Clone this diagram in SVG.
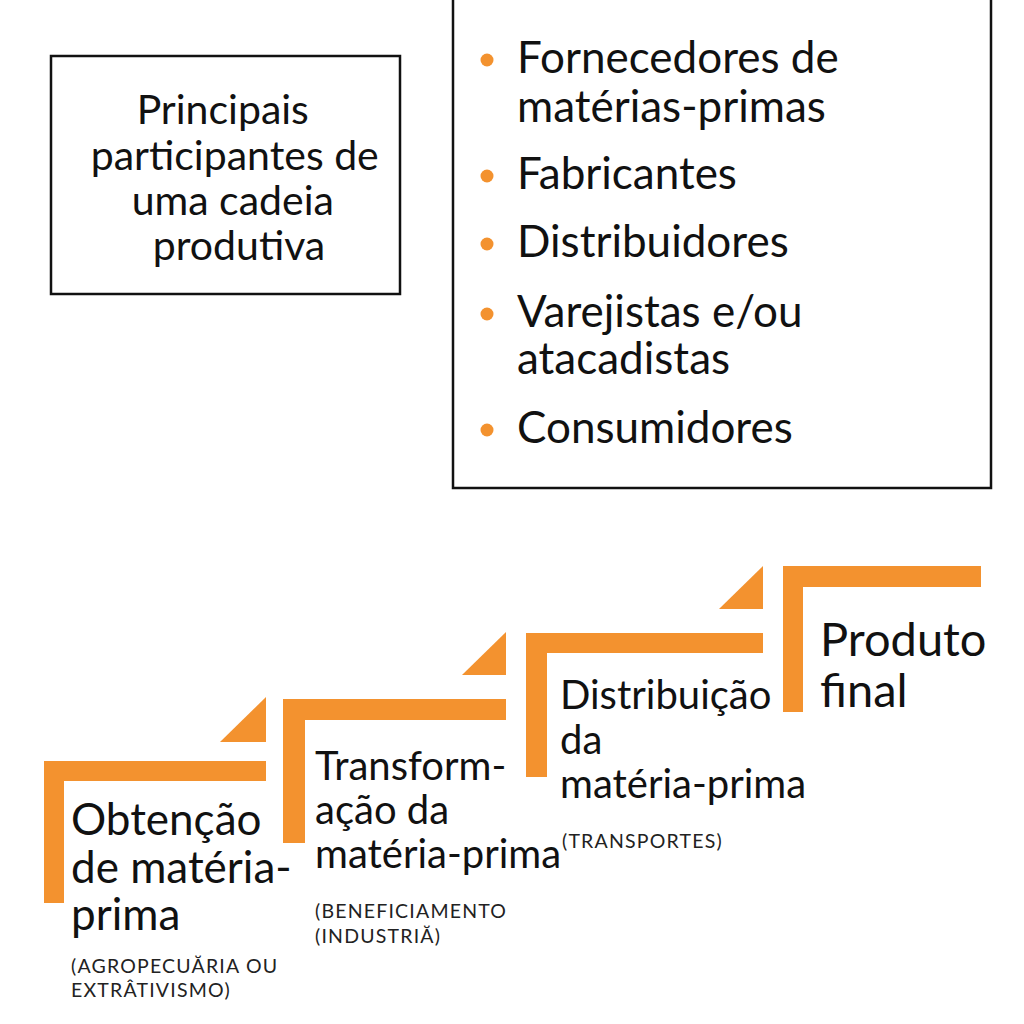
<svg xmlns="http://www.w3.org/2000/svg" width="1024" height="1024" viewBox="0 0 1024 1024">
<style>
.box{fill:#fff;stroke:#111;stroke-width:2.5}
.t{font-family:Lato,"Noto Sans",sans-serif;fill:#111}
.s{font-family:Lato,"Noto Sans",sans-serif;fill:#222;font-size:19.5px;letter-spacing:1.2px}
.or{fill:#F3922F}
</style>
<rect width="1024" height="1024" fill="#fff"/>
<g id="intro">
<rect class="box" x="51" y="56" width="349" height="238"/>
<text class="t" font-size="41" text-anchor="middle">
<tspan x="228" y="124">Principais</tspan>
<tspan x="240" y="170">participantes de</tspan>
<tspan x="238" y="215">uma cadeia</tspan>
<tspan x="239" y="260">produtiva</tspan>
</text>
</g>
<g id="participants">
<rect class="box" x="453" y="-5" width="538" height="493"/>
<g class="or">
<circle cx="487" cy="60" r="6.5"/>
<circle cx="487" cy="176" r="6.5"/>
<circle cx="487" cy="244" r="6.5"/>
<circle cx="487" cy="314" r="6.5"/>
<circle cx="487" cy="430" r="6.5"/>
</g>
<text class="t" font-size="44">
<tspan x="517" y="73">Fornecedores de</tspan>
<tspan x="517" y="122">matérias-primas</tspan>
<tspan x="517" y="189">Fabricantes</tspan>
<tspan x="517" y="257">Distribuidores</tspan>
<tspan x="517" y="327">Varejistas e/ou</tspan>
<tspan x="517" y="374">atacadistas</tspan>
<tspan x="517" y="443">Consumidores</tspan>
</text>
</g>
<g id="step1">
<path class="or" d="M44,761H266V781H64V903H44Z"/>
<path class="or" d="M220,742H266V697Z"/>
<text class="t" font-size="44"><tspan x="71" y="835">Obtenção</tspan><tspan x="71" y="883">de matéria-</tspan><tspan x="71" y="930">prima</tspan></text>
<text class="s"><tspan x="71" y="973">(AGROPECUĂRIA OU</tspan><tspan x="71" y="997">EXTRÂTIVISMO)</tspan></text>
</g>
<g id="step2">
<path class="or" d="M283,699H506V720H305V843H283Z"/>
<path class="or" d="M462,675H506V632Z"/>
<text class="t" font-size="40"><tspan x="315" y="780">Transform-</tspan><tspan x="315" y="824">ação da</tspan><tspan x="315" y="868">matéria-prima</tspan></text>
<text class="s"><tspan x="315" y="918">(BENEFICIAMENTO</tspan><tspan x="315" y="943">(INDUSTRIĂ)</tspan></text>
</g>
<g id="step3">
<path class="or" d="M526,633H763V653H547V777H526Z"/>
<path class="or" d="M719,609H763V566Z"/>
<text class="t" font-size="40"><tspan x="560" y="709">Distribuição</tspan><tspan x="560" y="754">da</tspan><tspan x="560" y="798">matéria-prima</tspan></text>
<text class="s"><tspan x="562" y="848">(TRANSPORTES)</tspan></text>
</g>
<g id="step4">
<path class="or" d="M783,566H981V587H803V712H783Z"/>
<text class="t" font-size="47"><tspan x="820" y="656">Produto</tspan><tspan x="820" y="707">final</tspan></text>
</g>
<g id="connectors"></g>
</svg>
